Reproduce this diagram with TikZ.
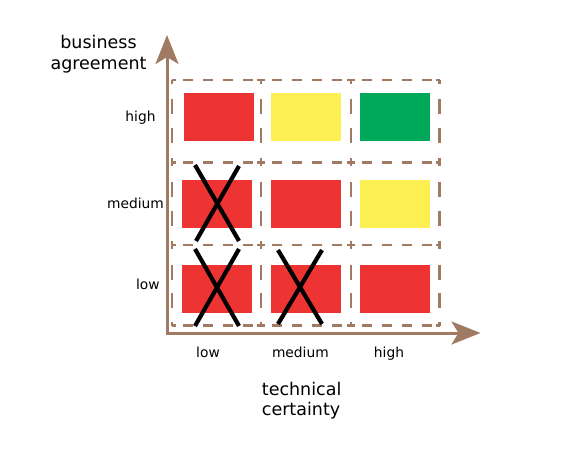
\documentclass[tikz,border=0pt]{standalone}
\usepackage{fontspec}
\setmainfont{DejaVu Sans}
\usetikzlibrary{arrows.meta}
\definecolor{axbrown}{HTML}{A07A62}
\definecolor{cred}{HTML}{EE3333}
\definecolor{cyellow}{HTML}{FCEF52}
\definecolor{cgreen}{HTML}{00A859}
\tikzset{
  cell/.style={minimum width=70pt,minimum height=48pt,inner sep=0pt,draw=none},
  gridstub/.style={draw=axbrown,line width=2.1pt},
  hdash/.style={draw=axbrown,line width=2.1pt,dash pattern=on 10pt off 10pt},
  vdash/.style={draw=axbrown,line width=2.1pt,dash pattern=on 15pt off 13.5pt},
  axis line/.style={draw=axbrown,line width=3pt,-{Stealth[length=29pt,width=23pt,inset=7pt]}},
  cross line/.style={draw=black,line width=4.2pt},
  big label/.style={font=\fontsize{17.5}{21}\selectfont,inner sep=0pt},
  small label/.style={font=\fontsize{13.8}{16}\selectfont,inner sep=0pt}
}
\begin{document}
\begin{tikzpicture}[x=1pt,y=-1pt]
\useasboundingbox (0,0) rectangle (582,452);
% boxes
\node[cell,fill=cred] (hl) at (219,117) {};
\node[cell,fill=cyellow] (hm) at (306,117) {};
\node[cell,fill=cgreen] (hh) at (395,117) {};
\node[cell,fill=cred] (ml) at (217,204) {};
\node[cell,fill=cred] (mm) at (306,204) {};
\node[cell,fill=cyellow] (mh) at (395,204) {};
\node[cell,fill=cred] (ll) at (217,289) {};
\node[cell,fill=cred] (lm) at (306,289) {};
\node[cell,fill=cred] (lh) at (395,289) {};
% grid: horizontal segments
\foreach \y in {80,162.5,245,325.5}{
  \foreach \a/\b in {172/261,261/351,351/439.5}{
    \draw[gridstub] (\a,\y) -- (\a+4,\y);
    \draw[gridstub] (\b-4,\y) -- (\b,\y);
    \draw[hdash] (\a+11,\y) -- (\a+81,\y);
  }
}
% grid: vertical segments
\foreach \x in {172,261,351,439.5}{
  \foreach \a/\b in {80/162.5,162.5/245,245/325.5}{
    \draw[gridstub] (\x,\a) -- (\x,\a+4);
    \draw[gridstub] (\x,\b-4) -- (\x,\b);
    \draw[vdash] (\x,\a+19.5) -- (\x,\a+63);
  }
}
% crosses
\draw[cross line] ([shift={(-22,-39)}]ml.center) -- ([shift={(22,37)}]ml.center);
\draw[cross line] ([shift={(22,-38)}]ml.center) -- ([shift={(-21,37)}]ml.center);
\draw[cross line] ([shift={(-22,-40)}]ll.center) -- ([shift={(22,37)}]ll.center);
\draw[cross line] ([shift={(22,-40)}]ll.center) -- ([shift={(-22,37)}]ll.center);
\draw[cross line] ([shift={(-28,-39)}]lm.center) -- ([shift={(16,35)}]lm.center);
\draw[cross line] ([shift={(16,-39)}]lm.center) -- ([shift={(-28,35)}]lm.center);
% axes
\coordinate (origin) at (167,333);
\coordinate (ytip) at (167,35);
\coordinate (xtip) at (480.5,333);
\draw[axis line] ([yshift=1.5pt]origin) -- (ytip);
\draw[axis line] ([xshift=-1.5pt]origin) -- (xtip);
% labels
\node[big label,anchor=base] (ylab1) at (98.5,48.3) {business};
\node[big label,anchor=base] (ylab2) at (98.5,69.3) {agreement};
\node[big label,anchor=base west] (xlab1) at (261.7,395.7) {technical};
\node[big label,anchor=base west] (xlab2) at (261.7,415.7) {certainty};
\node[small label,anchor=base] (yh) at (140.5,121.7) {high};
\node[small label,anchor=base] (ym) at (135.5,208) {medium};
\node[small label,anchor=base] (yl) at (147.8,289) {low};
\node[small label,anchor=base] (xl) at (208,357) {low};
\node[small label,anchor=base] (xm) at (300.4,357) {medium};
\node[small label,anchor=base] (xh) at (389,357) {high};
\end{tikzpicture}
\end{document}
